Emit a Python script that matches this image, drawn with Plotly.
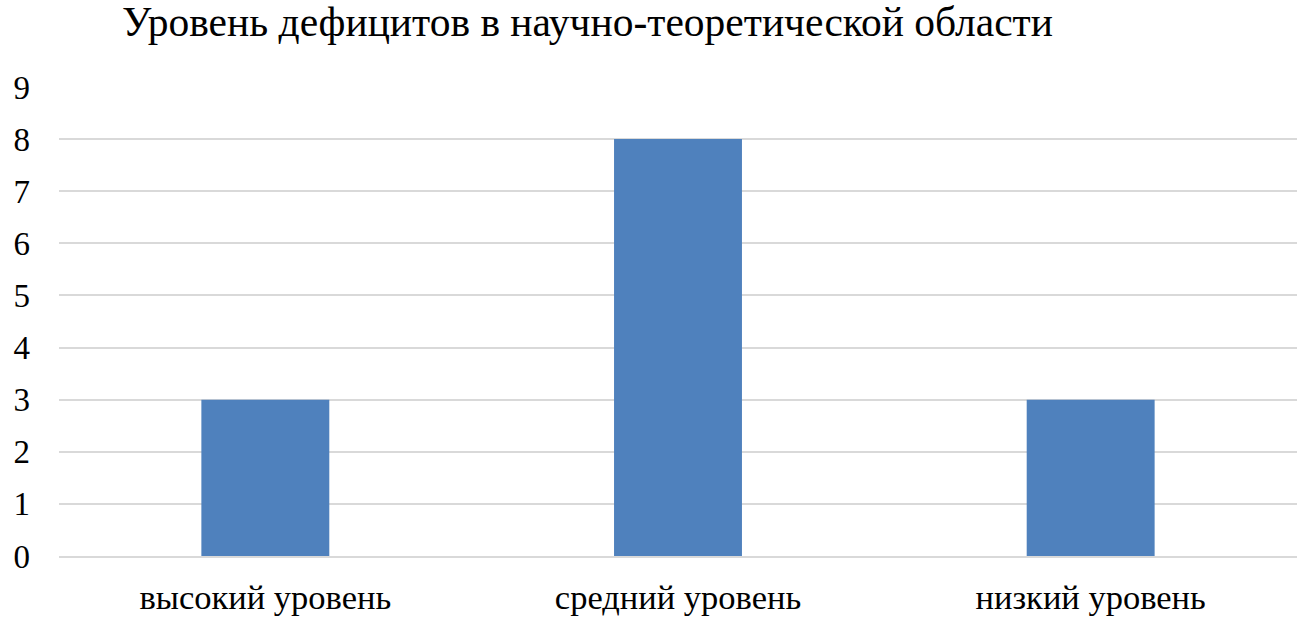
import plotly.graph_objects as go

categories = ["высокий уровень", "средний уровень", "низкий уровень"]
values = [3, 8, 3]
y_ticks = [0, 1, 2, 3, 4, 5, 6, 7, 8, 9]
title_text = "Уровень дефицитов в научно-теоретической области"

font_family = "Liberation Serif"

fig = go.Figure(go.Bar(
    x=categories, y=values,
    marker=dict(color="#4F81BD", line=dict(width=0)),
))

fig.update_layout(
    width=1306, height=622,
    margin=dict(l=59, r=9, t=87, b=66, autoexpand=False),
    paper_bgcolor="white", plot_bgcolor="white",
    bargap=0.69,
    showlegend=False,
    title=dict(text=title_text, x=122/1306, xanchor="left", y=1 - 21/622, yanchor="middle",
               font=dict(family=font_family, size=41.5, color="black")),
    font=dict(family=font_family, color="black"),
)
fig.update_yaxes(range=[0, 9], tickvals=y_ticks, showgrid=True, gridcolor="#D9D9D9", gridwidth=2,
                 zeroline=False, showline=False, tickfont=dict(size=33, family=font_family),
                 ticks="", ticklabelstandoff=28, automargin=False)
fig.update_xaxes(showline=True, linecolor="#D9D9D9", linewidth=2, ticks="", automargin=False,
                 tickfont=dict(size=34.5, family=font_family), ticklabelstandoff=10)

fig.write_html("out.html", config={"displayModeBar": False},
               post_script="document.body.style.margin='0';document.body.style.overflow='hidden';")
